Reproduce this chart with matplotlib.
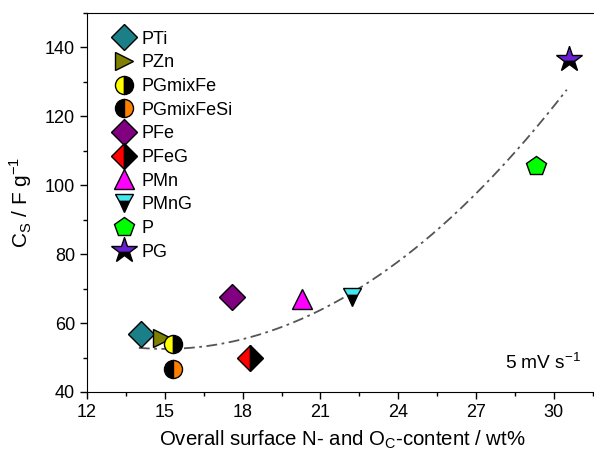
import numpy as np
import matplotlib
matplotlib.use("Agg")
import matplotlib.pyplot as plt
from matplotlib.ticker import MultipleLocator

plt.rcParams["font.family"] = ["Liberation Sans", "DejaVu Sans"]

# data
names = ["PTi", "PZn", "PGmixFe", "PGmixFeSi", "PFe", "PFeG", "PMn", "PMnG", "P", "PG"]
content = [14.1, 14.9, 15.3, 15.3, 17.6, 18.3, 20.3, 22.2, 29.3, 30.6]
cs = [56.8, 55.8, 54.0, 46.8, 67.5, 49.8, 67.0, 67.5, 105.5, 136.5]

# quadratic trend line
fit_x0, fit_y0, fit_b = 15.0, 52.5, 0.313
fit_range = (14.0, 30.5)

styles = [
    dict(marker="D", mfc="#1a7f86"),
    dict(marker=">", mfc="#808000"),
    dict(marker="o", mfc="#ffff00", fillstyle="left", mfcalt="black"),
    dict(marker="o", mfc="black", fillstyle="left", mfcalt="#ff8000"),
    dict(marker="D", mfc="#800080"),
    dict(marker="D", mfc="#ff0000", fillstyle="left", mfcalt="black"),
    dict(marker="^", mfc="#ff00ff"),
    dict(marker="v", mfc="#40e8f0", fillstyle="top", mfcalt="black"),
    dict(marker="p", mfc="#00ff00"),
    dict(marker="*", mfc="#6a1fd0", fillstyle="top", mfcalt="black"),
]
sizes = [13, 13, 13, 13, 13, 13, 14, 13, 15, 19]

fig = plt.figure(figsize=(5.94, 4.59), dpi=100)
ax = fig.add_axes([0.1465, 0.146, 0.86, 0.826])

xf = np.linspace(*fit_range, 200)
ax.plot(xf, fit_y0 + fit_b * (xf - fit_x0) ** 2, ls=(0, (6, 2.5, 1.5, 2.5)),
        color="#555555", lw=1.3, zorder=1)

for i, n in enumerate(names):
    st = dict(styles[i])
    kw = dict(marker=st["marker"], markerfacecolor=st["mfc"], markeredgecolor="black",
              markeredgewidth=1.0, markersize=sizes[i], ls="none", label=n, zorder=3)
    if "fillstyle" in st:
        kw["fillstyle"] = st["fillstyle"]
        kw["markerfacecoloralt"] = st["mfcalt"]
    ax.plot(content[i], cs[i], **kw)

ax.set_xlim(12, 31.7)
ax.set_ylim(40, 150)
ax.xaxis.set_major_locator(MultipleLocator(3))
ax.xaxis.set_minor_locator(MultipleLocator(1.5))
ax.yaxis.set_major_locator(MultipleLocator(20))
ax.yaxis.set_minor_locator(MultipleLocator(10))
ax.tick_params(which="both", direction="out", labelsize=13, width=1)
ax.tick_params(which="major", length=5)
ax.tick_params(which="minor", length=3)
ax.set_yticks([40, 60, 80, 100, 120, 140])
ax.set_xticks([12, 15, 18, 21, 24, 27, 30])

ax.set_xlabel("Overall surface N- and O$_\\mathregular{C}$-content / wt%", fontsize=14.7,
              labelpad=6)
ax.set_ylabel("C$_\\mathregular{S}$ / F g$^\\mathregular{-1}$", fontsize=15, labelpad=8)

ax.text(0.968, 0.05, "5 mV s$^\\mathregular{-1}$", transform=ax.transAxes,
        ha="right", va="bottom", fontsize=13.8)

leg = ax.legend(loc="upper left", frameon=False, fontsize=13, borderaxespad=0.2,
                handletextpad=0.2, labelspacing=0.37, handlelength=1.5,
                bbox_to_anchor=(0.025, 0.982))

fig.savefig("out.png", dpi=100)
